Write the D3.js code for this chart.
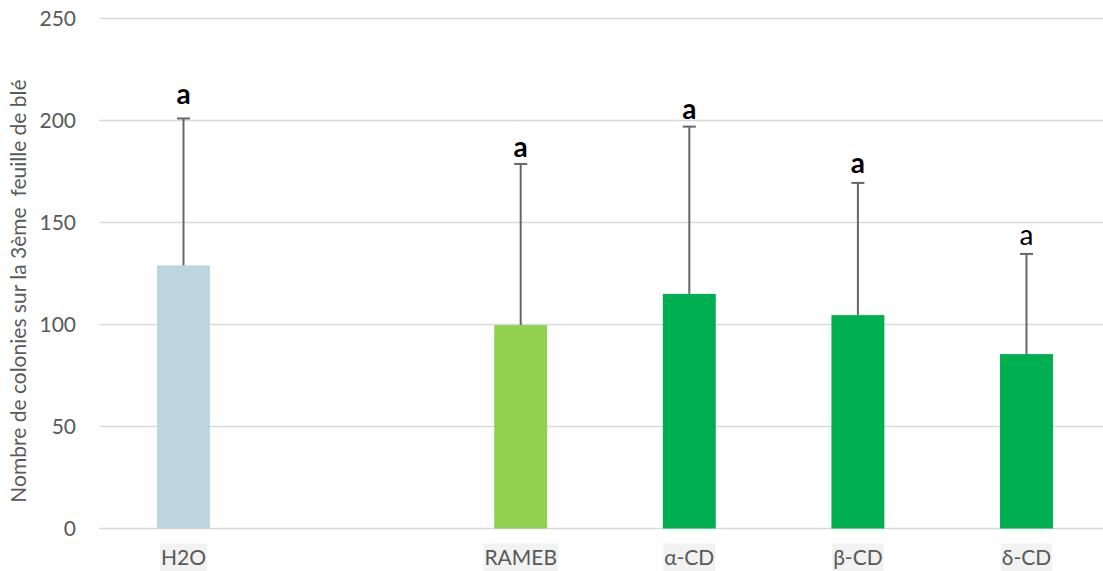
<!DOCTYPE html>
<html>
<head>
<meta charset="utf-8">
<script src="https://cdn.jsdelivr.net/npm/d3@7"></script>
<style>
  html, body { margin: 0; padding: 0; background: #fff; }
  svg { display: block; font-family: Lato, "Open Sans", sans-serif; }
</style>
</head>
<body>
<svg id="chart" width="1103" height="571"></svg>
<script>
// ---- data ----
const categories = ["H2O", "", "RAMEB", "α-CD", "β-CD", "δ-CD"];
const means      = [129, null, 99.7, 115, 104.6, 85.5];
const errorTops  = [201, null, 178.7, 197, 169.4, 134.6];
const letters    = ["a", null, "a", "a", "a", "a"];
const letterAt   = [208, null, 182, 200.5, 174.5, 139];
const yTicks     = [0, 50, 100, 150, 200, 250];
const yTitle     = "Nombre de colonies sur la 3ème  feuille de blé";

(function () {
const colors = {"H2O": "#BDD5DE", "RAMEB": "#92D050", "α-CD": "#00B050", "β-CD": "#00B050", "δ-CD": "#00B050"};

const data = categories.map((c, i) => ({name: c, key: "k" + i, mean: means[i], top: errorTops[i], letter: letters[i], lpos: letterAt[i]}));

const svg = d3.select("#chart");
const pLeft = 99.2, pRight = 1110.8, pTop = 18.5, pBottom = 528.5;

const x = d3.scaleBand()
  .domain(data.map(d => d.key))
  .range([pLeft, pRight])
  .paddingInner(0.686)
  .paddingOuter(0.343);

const y = d3.scaleLinear().domain([0, 250]).range([pBottom, pTop]);

// gridlines
svg.append("g")
  .selectAll("line")
  .data(yTicks)
  .join("line")
  .attr("x1", pLeft).attr("x2", 1103)
  .attr("y1", d => y(d)).attr("y2", d => y(d))
  .attr("stroke", "#d9d9d9")
  .attr("stroke-width", 1.5);

// y axis labels
const yAxis = d3.axisLeft(y).tickValues(yTicks).tickSize(0).tickPadding(0);
const yg = svg.append("g").attr("transform", `translate(${76},0)`).call(yAxis);
yg.select(".domain").remove();
yg.selectAll("text")
  .attr("fill", "#595959")
  .attr("x", 0)
  .style("font-size", "21px")
  .style("font-family", "Lato, sans-serif")
  .attr("dy", "0.35em");

// bars
const valid = data.filter(d => d.mean != null);
svg.append("g")
  .selectAll("rect")
  .data(valid)
  .join("rect")
  .attr("x", d => x(d.key))
  .attr("width", x.bandwidth())
  .attr("y", d => y(d.mean))
  .attr("height", d => y(0) - y(d.mean))
  .attr("fill", d => colors[d.name]);

// error bars (plus direction)
const eb = svg.append("g").attr("stroke", "#666").attr("stroke-width", 2);
eb.selectAll("line.v")
  .data(valid)
  .join("line")
  .attr("class", "v")
  .attr("x1", d => x(d.key) + x.bandwidth() / 2)
  .attr("x2", d => x(d.key) + x.bandwidth() / 2)
  .attr("y1", d => y(d.mean))
  .attr("y2", d => y(d.top));
eb.selectAll("line.c")
  .data(valid)
  .join("line")
  .attr("class", "c")
  .attr("x1", d => x(d.key) + x.bandwidth() / 2 - 6.5)
  .attr("x2", d => x(d.key) + x.bandwidth() / 2 + 6.5)
  .attr("y1", d => y(d.top))
  .attr("y2", d => y(d.top));

// significance letters
svg.append("g")
  .selectAll("text")
  .data(valid)
  .join("text")
  .attr("x", d => x(d.key) + x.bandwidth() / 2)
  .attr("y", d => y(d.lpos))
  .attr("text-anchor", "middle")
  .attr("fill", "#000")
  .style("font-size", "28px")
  .style("font-weight", d => d.name === "δ-CD" ? 400 : 700)
  .text(d => d.letter);

// x axis labels with light background
const xAxis = d3.axisBottom(x).tickSize(0).tickPadding(0)
  .tickFormat(k => data.find(d => d.key === k).name);
const xg = svg.append("g").attr("transform", `translate(0,${pBottom})`).call(xAxis);
xg.select(".domain").remove();
xg.selectAll(".tick").filter(k => data.find(d => d.key === k).name === "").remove();
xg.selectAll(".tick text")
  .attr("y", 29)
  .attr("dy", "0.35em")
  .attr("fill", "#595959")
  .style("font-size", "21px")
  .style("font-family", "Lato, sans-serif");
xg.selectAll(".tick").each(function() {
  const t = d3.select(this).select("text");
  const bb = t.node().getBBox();
  d3.select(this).insert("rect", "text")
    .attr("x", bb.x - 1)
    .attr("y", 15)
    .attr("width", bb.width + 2)
    .attr("height", 30)
    .attr("fill", "#f2f2f2");
});

// y axis title
svg.append("text")
  .attr("transform", `translate(26,${291}) rotate(-90)`)
  .attr("text-anchor", "middle")
  .attr("fill", "#595959")
  .style("font-size", "21px")
  .style("white-space", "pre")
  .text(yTitle);
})();
</script>
</body>
</html>
